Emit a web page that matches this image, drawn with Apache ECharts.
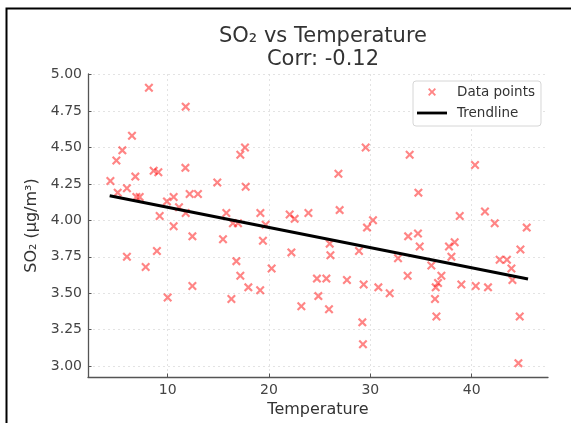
<!DOCTYPE html>
<html>
<head>
<meta charset="utf-8">
<script src="https://cdn.jsdelivr.net/npm/echarts@6/dist/echarts.min.js"></script>
<style>
  html, body { margin: 0; padding: 0; background: #fff; }
  #chart { width: 571px; height: 423px; }
</style>
</head>
<body>
<div id="chart"></div>
<script>
// SO2 vs temperature scatter + linear trend

var tempX = [4.35, 4.94, 5.53, 6.48, 8.15, 11.78, 5.07, 5.98, 6.81, 6.91,
             7.24, 8.62, 9.08, 11.75, 9.93, 10.59, 11.12, 11.78, 12.17, 12.99,
             9.21, 10.59, 14.90, 15.79, 16.44, 16.94, 17.17, 17.63, 17.70, 19.15,
             19.67, 12.44, 15.46, 19.40, 5.98, 8.94, 7.83, 16.78, 17.17, 20.26,
             12.44, 17.96, 19.13, 10.00, 16.29, 22.04, 22.53, 23.89, 26.97, 26.85,
             29.54, 30.26, 29.67, 22.21, 25.99, 26.06, 28.88, 32.73, 33.73, 33.68,
             24.73, 25.66, 27.69, 29.34, 30.79, 31.91, 24.87, 23.19, 25.92, 29.21,
             29.27, 33.88, 40.33, 34.74, 38.82, 41.31, 42.27, 45.43, 34.70, 34.87,
             37.76, 38.32, 38.00, 42.76, 43.48, 44.81, 43.92, 44.02, 36.02, 37.01,
             36.68, 36.45, 38.98, 40.40, 41.61, 36.38, 36.52, 44.74, 44.61];

var so2Y = [4.27, 4.41, 4.48, 4.58, 4.91, 4.78, 4.19, 4.22, 4.30, 4.16,
            4.16, 4.34, 4.33, 4.36, 4.13, 4.16, 4.09, 4.05, 4.18, 4.18,
            4.03, 3.96, 4.26, 4.05, 3.98, 3.98, 4.45, 4.50, 4.23, 4.05,
            3.97, 3.89, 3.87, 3.86, 3.75, 3.79, 3.68, 3.72, 3.62, 3.67,
            3.55, 3.54, 3.52, 3.47, 3.46, 4.04, 4.01, 4.05, 4.07, 4.32,
            4.50, 4.00, 3.95, 3.78, 3.84, 3.76, 3.79, 3.74, 3.89, 3.62,
            3.60, 3.60, 3.59, 3.56, 3.54, 3.50, 3.48, 3.41, 3.39, 3.30,
            3.15, 4.45, 4.38, 4.19, 4.03, 4.06, 3.98, 3.95, 3.91, 3.82,
            3.82, 3.85, 3.75, 3.73, 3.73, 3.80, 3.67, 3.59, 3.69, 3.62,
            3.57, 3.54, 3.56, 3.55, 3.54, 3.46, 3.34, 3.34, 3.02];

var trendX = [4.28, 45.56];
var trendY = [4.168, 3.598];

var xTicks = [10, 20, 30, 40];
var yTicks = [3.00, 3.25, 3.50, 3.75, 4.00, 4.25, 4.50, 4.75, 5.00];

var pointData = tempX.map(function (x, i) { return [x, so2Y[i]]; });
var trendData = trendX.map(function (x, i) { return [x, trendY[i]]; });

var crossPath = 'path://M0,1.7 L1.7,0 L5,3.3 L8.3,0 L10,1.7 L6.7,5 L10,8.3 L8.3,10 L5,6.7 L1.7,10 L0,8.3 L3.3,5 Z';
var lineIcon = 'path://M0,0 L30,0 L30,2.8 L0,2.8 Z';
var font = 'DejaVu Sans';

var myChart = echarts.init(document.getElementById('chart'));

var option = {
    backgroundColor: '#fff',
    animation: false,
    textStyle: { fontFamily: font },
    title: [{
        text: 'SO₂ vs Temperature',
        left: 318,
        top: 21,
        textAlign: 'center',
        textStyle: { fontFamily: font, fontSize: 21, fontWeight: 'normal', color: '#333' }
    }, {
        text: 'Corr: -0.12',
        left: 318,
        top: 44,
        textAlign: 'center',
        textStyle: { fontFamily: font, fontSize: 21, fontWeight: 'normal', color: '#333' }
    }],
    graphic: [{
        type: 'rect',
        shape: { x: 6.5, y: 8.5, width: 620, height: 500 },
        style: { fill: 'none', stroke: '#000', lineWidth: 2 },
        silent: true
    }],
    legend: {
        orient: 'vertical',
        left: 413,
        top: 81,
        padding: [4, 6, 6, 4],
        itemGap: 7,
        itemWidth: 30,
        itemHeight: 8,
        backgroundColor: '#fff',
        borderColor: '#d6d6d6',
        borderWidth: 1,
        borderRadius: 3,
        textStyle: { fontFamily: font, fontSize: 13.5, color: '#333', lineHeight: 14, padding: [0, 0, 0, 5] },
        data: [
            { name: 'Data points' },
            { name: 'Trendline', icon: lineIcon, itemStyle: { color: '#000' } }
        ]
    },
    grid: { left: 88, right: 23, top: 74, bottom: 45 },
    xAxis: {
        type: 'value',
        min: 2.14,
        max: 47.53,
        name: 'Temperature',
        nameLocation: 'middle',
        nameGap: 25,
        nameTextStyle: { fontFamily: font, fontSize: 16, color: '#333' },
        axisLine: { lineStyle: { color: '#555', width: 1.3 } },
        axisTick: { inside: true, length: 3.5, lineStyle: { color: '#555' }, customValues: xTicks },
        axisLabel: { fontFamily: font, fontSize: 14, color: '#444', margin: 6, customValues: xTicks },
        splitLine: { show: true, lineStyle: { color: '#dcdcdc', type: [2, 3], width: 0.8 } }
    },
    yAxis: {
        type: 'value',
        min: 2.925,
        max: 5.004,
        name: 'SO₂ (μg/m³)',
        nameLocation: 'middle',
        nameGap: 48,
        nameRotate: 90,
        nameTextStyle: { fontFamily: font, fontSize: 16, color: '#333' },
        axisLine: { show: true, lineStyle: { color: '#555', width: 1.3 } },
        axisTick: { show: true, inside: true, length: 3.5, lineStyle: { color: '#555' }, customValues: yTicks },
        axisLabel: {
            fontFamily: font, fontSize: 14, color: '#444', margin: 6, customValues: yTicks,
            formatter: function (v) { return v.toFixed(2); }
        },
        splitLine: { show: true, lineStyle: { color: '#dcdcdc', type: [2, 3], width: 0.8 } }
    },
    series: [
        {
            name: 'Data points',
            type: 'scatter',
            symbol: crossPath,
            symbolSize: 9,
            itemStyle: { color: 'rgba(255,0,0,0.6)' },
            data: pointData,
            z: 2
        },
        {
            name: 'Trendline',
            type: 'line',
            symbol: 'none',
            showSymbol: false,
            lineStyle: { color: '#000', width: 3 },
            itemStyle: { color: '#000' },
            data: trendData,
            z: 3
        }
    ]
};

myChart.setOption(option);
</script>
</body>
</html>
